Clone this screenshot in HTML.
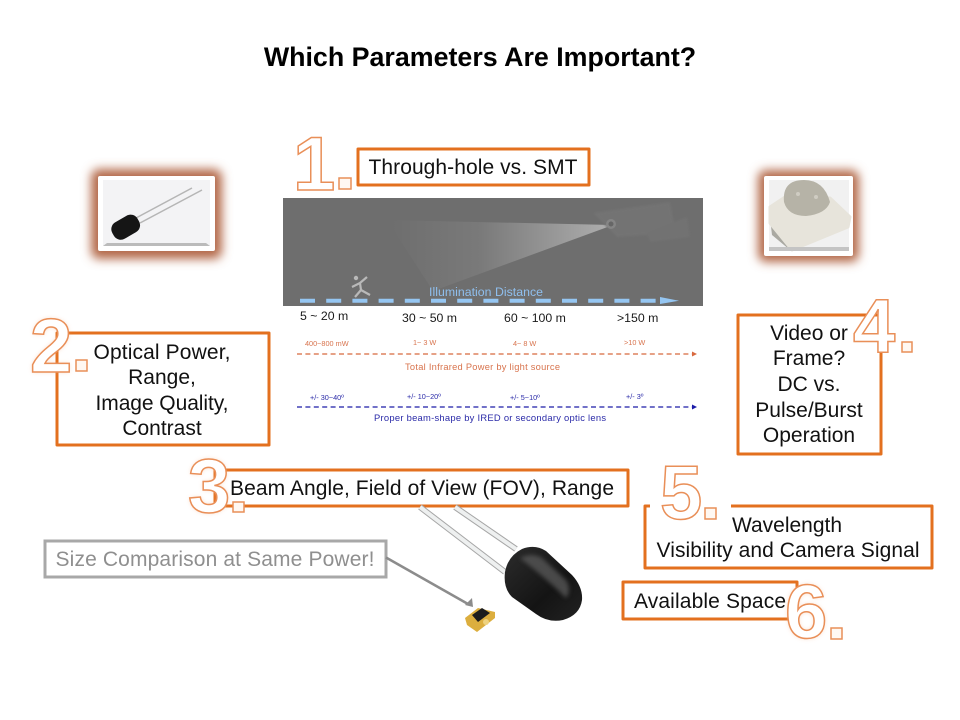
<!DOCTYPE html>
<html><head><meta charset="utf-8"><style>
html,body{margin:0;padding:0;background:#fff}
svg{display:block;font-family:"Liberation Sans",sans-serif}
.b{fill:#fff;stroke:#e3701f;stroke-width:3;stroke-linejoin:round}
.t{font-size:21px;fill:#111;text-anchor:middle}
.n{font-size:76px;font-weight:bold;fill:#fff;stroke:#e98f58;stroke-width:1.5}
.d{fill:#fff8f2;stroke:#e98f58;stroke-width:1.5}
</style></head><body>
<svg width="960" height="720" viewBox="0 0 960 720" xmlns="http://www.w3.org/2000/svg">
<defs>
<filter id="gl" x="-30%" y="-30%" width="160%" height="160%"><feGaussianBlur stdDeviation="5"/></filter>
<filter id="s1" x="-20%" y="-20%" width="140%" height="140%"><feGaussianBlur stdDeviation="1"/></filter>
<filter id="s2" x="-30%" y="-30%" width="160%" height="160%"><feGaussianBlur stdDeviation="2"/></filter>
<filter id="s3" x="-50%" y="-50%" width="200%" height="200%"><feGaussianBlur stdDeviation="2.500"/></filter>
<linearGradient id="beam" gradientUnits="userSpaceOnUse" x1="390" y1="0" x2="613" y2="0"><stop offset="0" stop-color="#fff" stop-opacity="0"/><stop offset=".4" stop-color="#fff" stop-opacity=".08"/><stop offset="1" stop-color="#fff" stop-opacity=".45"/></linearGradient>
<linearGradient id="pl" x1="0" x2="1" y1="0" y2="1"><stop offset="0" stop-color="#2c2c2c"/><stop offset=".6" stop-color="#141414"/><stop offset="1" stop-color="#222"/></linearGradient>
</defs>
<rect width="960" height="720" fill="#fff"/>
<text x="480" y="66" font-size="26.8" font-weight="bold" text-anchor="middle" fill="#000">Which Parameters Are Important?</text>

<!-- left thumbnail -->
<rect x="91" y="169" width="131" height="90" rx="8" fill="#b3694a" filter="url(#gl)"/>
<rect x="98" y="176" width="117" height="75" rx="2" fill="#fff"/>
<rect x="103" y="180" width="107" height="66" fill="#f3f3f5"/>
<path d="M103 246L107 243H206L210 246Z" fill="#bbb"/>
<path d="M136 218L192 188M140 223L202 190" stroke="#b5b5b5" stroke-width="1.500" fill="none"/>
<rect x="111" y="218" width="29" height="19" rx="8" transform="rotate(-30 125 227)" fill="#151515"/>

<!-- right thumbnail -->
<rect x="758" y="170" width="101" height="92" rx="8" fill="#b3694a" filter="url(#gl)"/>
<rect x="764" y="176" width="89" height="80" rx="2" fill="#fff"/>
<rect x="769" y="180" width="80" height="71" fill="#f1f1f1"/>
<path d="M770 218L790 240L790 250L772 235Z" fill="#aaa9a2"/>
<path d="M770 207L785 197L830 198L850 217L848 227L792 250L770 223Z" fill="#e7e4db" stroke="#e7e4db" stroke-width="3" stroke-linejoin="round"/>
<path d="M784 202Q782 180 804 180Q824 180 830 202Q826 214 806 216Q788 216 784 202Z" fill="#b6b3a7"/>
<circle cx="798" cy="194" r="2" fill="#cfccc2"/><circle cx="816" cy="197" r="2" fill="#cfccc2"/>
<rect x="769" y="247" width="80" height="4" fill="#c4c4c4"/>

<!-- gray image -->
<rect x="283" y="198" width="420" height="108" fill="#6e6e6e"/>
<path d="M387 220L613 225L433 291Z" fill="url(#beam)"/>
<g filter="url(#s1)"><path d="M593 213L670 202L676 233L617 237Z" fill="#737373"/>
<path d="M647 233L687 217L690 237L650 242Z" fill="#727272"/></g>
<circle cx="611" cy="224" r="5" fill="#858585"/><circle cx="611" cy="224" r="2.500" fill="#666"/>
<g stroke="#b9b9b9" stroke-width="2.200" fill="none"><path d="M367 277L360 283L352 287"/><path d="M360 283L361 290L370 295"/><path d="M361 290L355 297"/></g>
<circle cx="356" cy="278" r="2.200" fill="#b9b9b9"/>
<text x="429" y="296" font-size="12.3" fill="#8fbfee" textLength="114">Illumination Distance</text>
<line x1="300" y1="300.700" x2="660" y2="300.700" stroke="#95c6f2" stroke-width="4" stroke-dasharray="15 11.200"/>
<path d="M660 297L679 300.700L660 304Z" fill="#95c6f2"/>

<g font-size="12.3" fill="#1a1a1a">
<text x="300" y="320">5 ~ 20 m</text><text x="402" y="322">30 ~ 50 m</text><text x="504" y="322">60 ~ 100 m</text><text x="617" y="322">&gt;150 m</text>
</g>
<g font-size="7.300" fill="#d8744e">
<text x="305" y="346">400~800 mW</text><text x="413" y="345">1~ 3 W</text><text x="513" y="346">4~ 8 W</text><text x="624" y="345">&gt;10 W</text>
<text x="405" y="370" font-size="9.300" textLength="155">Total Infrared Power by light source</text>
</g>
<line x1="297" y1="354" x2="692" y2="354" stroke="#d8693f" stroke-width="1.300" stroke-dasharray="5 3.400"/>
<path d="M692 351.500L697 354L692 356.500Z" fill="#d8693f"/>
<g font-size="7.300" fill="#2a2aa8">
<text x="310" y="400">+/- 30~40º</text><text x="407" y="399">+/- 10~20º</text><text x="510" y="400">+/- 5~10º</text><text x="626" y="399">+/- 3º</text>
<text x="374" y="421" font-size="9.400" textLength="232">Proper beam-shape by IRED or secondary optic lens</text>
</g>
<line x1="297" y1="407" x2="692" y2="407" stroke="#1c1ca8" stroke-width="1.300" stroke-dasharray="5 3.400"/>
<path d="M692 404.500L697 407L692 409.500Z" fill="#1c1ca8"/>

<!-- boxes -->
<rect class="b" x="358" y="149" width="231" height="36"/>
<text class="t" x="473" y="174" textLength="209">Through-hole vs. SMT</text>

<rect class="b" x="57" y="333" width="212" height="112"/>
<text class="t" x="162" y="359" textLength="137">Optical Power,</text>
<text class="t" x="162" y="384">Range,</text>
<text class="t" x="162" y="410" textLength="133">Image Quality,</text>
<text class="t" x="162" y="435">Contrast</text>

<rect class="b" x="215" y="470" width="413" height="36"/>
<text class="t" x="422" y="495" textLength="384">Beam Angle, Field of View (FOV), Range</text>

<rect class="b" x="738" y="315" width="143" height="139"/>
<text class="t" x="809" y="340">Video or</text>
<text class="t" x="809" y="365">Frame?</text>
<text class="t" x="809" y="391">DC vs.</text>
<text class="t" x="809" y="417">Pulse/Burst</text>
<text class="t" x="809" y="442">Operation</text>

<rect class="b" x="645" y="506" width="287" height="62"/>
<rect x="650" y="500" width="81" height="12" fill="#fff"/>
<text class="t" x="787" y="532">Wavelength</text>
<text class="t" x="788" y="557" textLength="263">Visibility and Camera Signal</text>

<rect class="b" x="623" y="582" width="174" height="37"/>
<text class="t" x="710" y="608" textLength="152">Available Space</text>

<rect x="45" y="541" width="341" height="36" fill="#fff" stroke="#a8a8a8" stroke-width="3"/>
<text x="215" y="566" font-size="21" fill="#8f8f8f" text-anchor="middle" textLength="319">Size Comparison at Same Power!</text>
<line x1="386" y1="557.500" x2="468" y2="604" stroke="#8c8c8c" stroke-width="2.500"/>
<path d="M473 607L465 605L472 598Z" fill="#8c8c8c"/>

<!-- large LED -->
<g fill="none">
<path d="M420 507L505 572" stroke="#a6a6a6" stroke-width="6"/>
<path d="M420 507L505 572" stroke="#eef0f0" stroke-width="4"/>
<path d="M455 507L516 549" stroke="#a6a6a6" stroke-width="6"/>
<path d="M455 507L516 549" stroke="#eef0f0" stroke-width="4"/>
</g>
<path d="M505 572Q508 556 522 549Q535 544 546 551L572 575Q583 587 582 600Q580 615 563 620Q548 623 536 614L512 597Q503 588 505 572Z" fill="url(#pl)"/>
<path d="M520 558Q532 552 542 558L566 580Q572 590 566 598Q548 580 520 558Z" fill="#5a5a5a" opacity=".75" filter="url(#s2)"/>

<!-- small SMD -->
<path d="M465 618L478 608L495 612L495 618L477 632L467 625Z" fill="#dcae3e"/>
<path d="M472 615L482 608L490 613L478 622Z" fill="#1c1c1c"/>
<circle cx="486" cy="622" r="3" fill="#eed27f"/>

<!-- numerals -->
<g filter="url(#s3)" opacity=".4" fill="#f3a878" font-size="76" font-weight="bold"><text x="188" y="512">3</text><text x="785" y="638">6</text><text x="30" y="372">2</text></g>
<text class="n" x="293" y="190">1</text><rect class="d" x="339" y="178" width="12" height="11"/>
<text class="n" x="30" y="372">2</text><rect class="d" x="76" y="360" width="11" height="11"/>
<text class="n" x="188" y="512">3</text><rect class="d" x="233" y="502" width="11" height="10"/>
<text class="n" x="853" y="352">4</text><rect class="d" x="902" y="342" width="10" height="10"/>
<text class="n" x="660" y="519">5</text><rect class="d" x="705" y="508" width="11" height="11"/>
<text class="n" x="785" y="638">6</text><rect class="d" x="831" y="628" width="11" height="11"/>
</svg>
</body></html>
